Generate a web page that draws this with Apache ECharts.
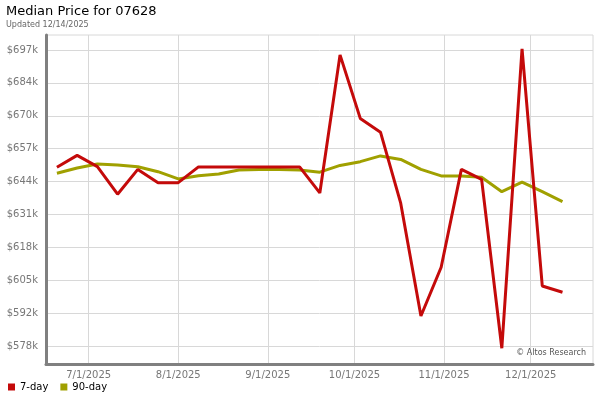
<!DOCTYPE html>
<html><head><meta charset="utf-8">
<script src="https://cdn.jsdelivr.net/npm/echarts@6/dist/echarts.min.js"></script>
<style>html,body{margin:0;padding:0;background:#fff}#c{width:600px;height:400px}</style>
</head><body><div id="c"></div>
<script>
const dates = ['2025-06-20','2025-06-27','2025-07-04','2025-07-11','2025-07-18','2025-07-25','2025-08-01','2025-08-08','2025-08-15','2025-08-22','2025-08-29','2025-09-05','2025-09-12','2025-09-19','2025-09-26','2025-10-03','2025-10-10','2025-10-17','2025-10-24','2025-10-31','2025-11-07','2025-11-14','2025-11-21','2025-11-28','2025-12-05','2025-12-12'];
const sevenDay = [649.9,654.6,650.1,639.1,649.0,643.7,643.7,650.0,650.0,650.0,650.0,650.0,650.0,639.6,694.8,669.4,663.9,635.5,590.4,609.9,649.0,645.0,577.5,697.2,602.4,599.9];
const ninetyDay = [647.5,649.6,651.2,650.8,650.1,648.1,645.2,646.5,647.2,648.8,649.0,649.0,648.8,647.9,650.6,652.1,654.4,653.0,649.0,646.4,646.4,645.9,640.1,643.9,640.1,636.1];
const yTicks = [578.4,591.55,604.7,617.85,631.0,644.15,657.3,670.45,683.6,696.75];
const yLabels = ['$578k','$592k','$605k','$618k','$631k','$644k','$657k','$670k','$684k','$697k'];
const xTickDates = ['2025-07-01','2025-08-01','2025-09-01','2025-10-01','2025-11-01','2025-12-01'];
const xTickLabels = ['7/1/2025','8/1/2025','9/1/2025','10/1/2025','11/1/2025','12/1/2025'];

const DAY = 86400000;
const ts = d => { const p = d.split('-').map(Number); return Date.UTC(p[0], p[1]-1, p[2]) / DAY; };
const xTicks = xTickDates.map(ts);
const font = 'DejaVu Sans';
const nearest = (arr, v) => { let b = 0; arr.forEach((t, i) => { if (Math.abs(t - v) < Math.abs(arr[b] - v)) b = i; }); return b; };
const chart = echarts.init(document.getElementById('c'));
chart.setOption({
  animation: false,
  title: [
    {text: 'Median Price for 07628', left: 6, top: 5, padding: 0, textStyle: {fontFamily: font, fontSize: 13, fontWeight: 'normal', color: '#000'}},
    {text: 'Updated 12/14/2025', left: 6, top: 21, padding: 0, textStyle: {fontFamily: font, fontSize: 8, fontWeight: 'normal', color: '#666'}},
    {text: '© Altos Research', right: 14, top: 349, padding: 0, textStyle: {fontFamily: font, fontSize: 8, fontWeight: 'normal', color: '#555'}}
  ],
  legend: {
    left: 3, top: 377, icon: 'rect', itemWidth: 7, itemHeight: 7, itemGap: 12,
    textStyle: {fontFamily: font, fontSize: 10, color: '#000'},
    data: ['7-day', '90-day']
  },
  grid: {left: 46, right: 7, top: 35, bottom: 36, show: true, borderColor: '#d8d8d8', borderWidth: 1},
  xAxis: {
    type: 'value',
    min: ts('2025-06-16') + 0.22,
    max: ts('2025-12-22') + 0.56,
    axisLine: {show: true, onZero: false, lineStyle: {color: '#808080', width: 3}},
    axisTick: {show: false, customValues: xTicks},
    axisLabel: {customValues: xTicks, color: '#777', fontFamily: font, fontSize: 10, margin: 6,
      formatter: v => xTickLabels[nearest(xTicks, v)]},
    splitLine: {show: true, lineStyle: {color: '#d8d8d8', width: 1}}
  },
  yAxis: {
    type: 'value',
    min: 571.2, max: 702.75,
    axisLine: {show: true, onZero: false, lineStyle: {color: '#808080', width: 3}},
    axisTick: {show: false, customValues: yTicks},
    axisLabel: {customValues: yTicks, color: '#777', fontFamily: font, fontSize: 10, margin: 8,
      formatter: v => yLabels[nearest(yTicks, v)]},
    splitLine: {show: true, lineStyle: {color: '#d8d8d8', width: 1}}
  },
  series: [
    {name: '7-day', type: 'line', data: dates.map((d, i) => [ts(d), sevenDay[i]]), showSymbol: false, symbol: 'none',
     lineStyle: {color: '#c40a0a', width: 3}, itemStyle: {color: '#c40a0a'}, clip: false},
    {name: '90-day', type: 'line', data: dates.map((d, i) => [ts(d), ninetyDay[i]]), showSymbol: false, symbol: 'none',
     lineStyle: {color: '#a0a000', width: 3}, itemStyle: {color: '#a0a000'}, clip: false, z: 1}
  ]
});
</script></body></html>
